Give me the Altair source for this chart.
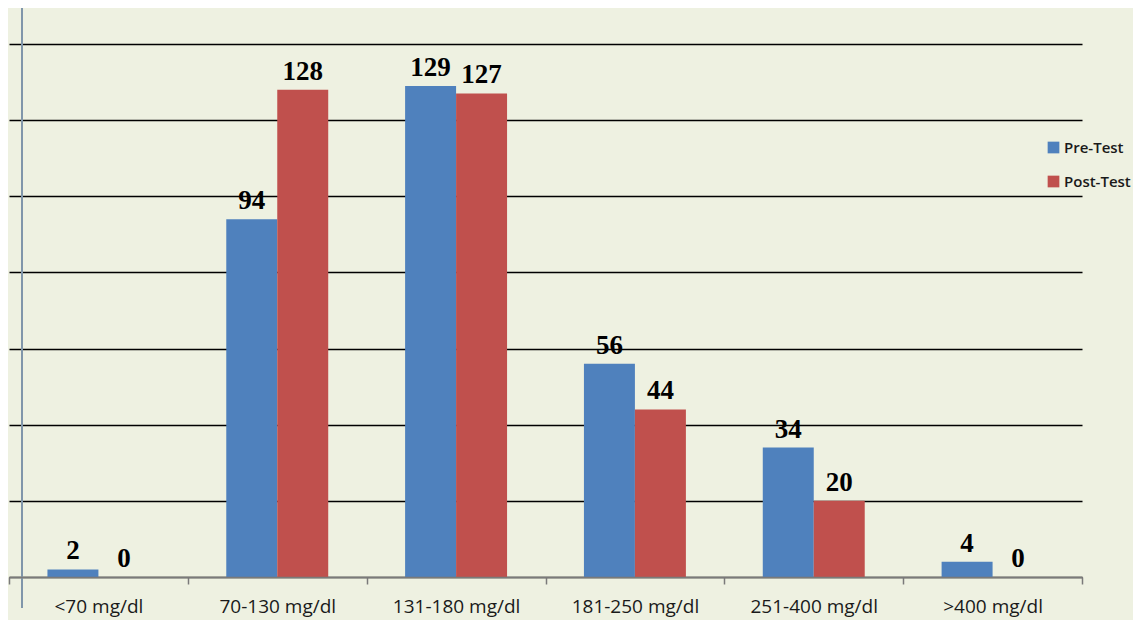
import altair as alt
import pandas as pd

categories = ["<70 mg/dl", "70-130 mg/dl", "131-180 mg/dl", "181-250 mg/dl", "251-400 mg/dl", ">400 mg/dl"]
pre_test = [2, 94, 129, 56, 34, 4]
post_test = [0, 128, 127, 44, 20, 0]
series = ["Pre-Test", "Post-Test"]
colors = ["#4f81bd", "#c0504d"]
y_ticks = [0, 20, 40, 60, 80, 100, 120, 140]

rows = []
for c, a, b in zip(categories, pre_test, post_test):
    rows.append({"Range": c, "Series": series[0], "Count": a})
    rows.append({"Range": c, "Series": series[1], "Count": b})
df = pd.DataFrame(rows)

W, H = 1073, 533

x = alt.X(
    "Range:N", sort=categories,
    scale=alt.Scale(paddingInner=0, paddingOuter=0),
    axis=alt.Axis(title=None, labelAngle=0, tickBand="extent", tickSize=7,
                  tickColor="#7a7a7a", tickWidth=1.5, domainColor="#7a7a7a", domainWidth=1.5,
                  labelFont="Open Sans", labelFontSize=19, labelColor="#1a1a1a",
                  labelPadding=13, grid=False, zindex=1),
)
y = alt.Y(
    "Count:Q",
    scale=alt.Scale(domain=[0, 140], nice=False),
    axis=alt.Axis(title=None, values=y_ticks, labels=False, ticks=False, domain=False,
                  grid=True, gridColor="#000000", gridWidth=1.5),
)
xo = alt.XOffset("Series:N", sort=series, scale=alt.Scale(paddingInner=0, paddingOuter=0.754))
color = alt.Color(
    "Series:N", sort=series,
    scale=alt.Scale(domain=series, range=colors),
    legend=alt.Legend(title=None, orient="none", legendX=1037, legendY=96,
                      symbolType="square", symbolSize=137, symbolStrokeWidth=0,
                      labelFont="Open Sans", labelFontSize=15, labelFontWeight=600,
                      labelColor="#1a1a1a", rowPadding=18, labelOffset=3),
)

bars = alt.Chart(df).mark_bar().encode(x=x, y=y, xOffset=xo, color=color)
labels = alt.Chart(df).mark_text(
    font="Liberation Serif", fontWeight="bold", fontSize=27,
    baseline="alphabetic", dy=-10, color="black",
).encode(x=x, y=y, xOffset=xo, text="Count:Q")

yline = alt.Chart(pd.DataFrame({"k": [0]})).mark_rule(color="#8096aa", strokeWidth=2).encode(
    x=alt.value(13), y=alt.value(-37), y2=alt.value(H + 31)
)

chart = alt.layer(bars, labels, yline).properties(
    width=W, height=H,
    background="#eef1e1",
    padding={"left": 1, "top": 36, "right": 51, "bottom": 43},
    autosize=alt.AutoSizeParams(type="none"),
).configure_view(stroke=None)

chart.save("out.html", embed_options={"renderer": "svg", "actions": False})
